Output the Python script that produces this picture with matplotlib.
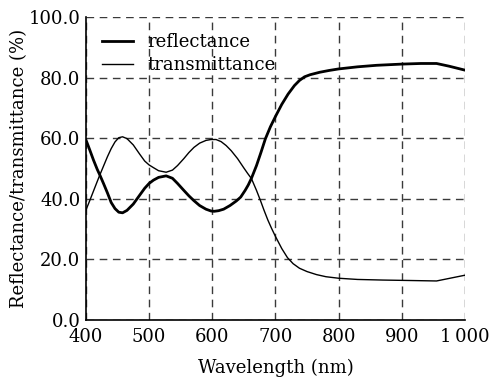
import matplotlib
matplotlib.use('Agg')
import matplotlib.pyplot as plt
import numpy as np

# data
wl_r = [400, 406, 412, 418, 422, 428, 434, 440, 446, 452, 458, 465, 475, 485, 493,
        500, 507, 515, 527, 537, 545, 555, 563, 571, 580, 590, 598, 603, 610, 618,
        628, 638, 645, 652, 657, 662, 670, 677, 684, 692, 700, 710, 720, 730, 738,
        746, 755, 770, 785, 800, 830, 860, 900, 930, 955, 975, 1000]
refl = [59.5, 56.2, 52.8, 49.7, 47.9, 45.0, 42.0, 38.8, 36.8, 35.6, 35.4, 36.2, 38.3, 41.2, 43.5,
        45.1, 46.2, 47.1, 47.6, 46.8, 45.1, 42.8, 41.0, 39.4, 37.8, 36.6, 36.0, 35.9, 36.1, 36.6,
        37.8, 39.3, 40.6, 42.8, 44.6, 46.8, 51.0, 55.3, 59.8, 63.8, 67.2, 71.2, 74.6, 77.4, 79.1,
        80.3, 81.0, 81.8, 82.4, 82.9, 83.6, 84.1, 84.5, 84.7, 84.7, 83.8, 82.5]

wl_t = [400, 406, 412, 418, 422, 428, 434, 440, 446, 452, 458, 465, 475, 485, 493,
        500, 507, 515, 527, 537, 545, 555, 563, 571, 580, 590, 598, 606, 614, 622,
        630, 640, 650, 656, 662, 670, 676, 682, 688, 694, 700, 710, 719, 728, 738,
        750, 765, 780, 800, 830, 870, 900, 955, 1000]
trans = [36.3, 39.4, 42.6, 45.8, 47.9, 50.9, 53.9, 56.6, 58.8, 60.2, 60.5, 59.9, 57.8, 54.8, 52.5,
         51.2, 50.3, 49.3, 48.8, 49.5, 51.0, 53.3, 55.3, 57.0, 58.4, 59.3, 59.6, 59.6, 58.9, 57.6,
         55.9, 53.3, 50.2, 48.4, 46.7, 42.8, 39.6, 36.2, 33.0, 30.2, 27.6, 23.6, 20.6, 18.6, 17.1,
         16.0, 15.0, 14.3, 13.8, 13.4, 13.2, 13.1, 12.9, 14.8]

xticks = [400, 500, 600, 700, 800, 900, 1000]
xlabels = ['400', '500', '600', '700', '800', '900', '1\u2009000']
yticks = [0, 20, 40, 60, 80, 100]

plt.rcParams['font.family'] = ['DejaVu Serif']
plt.rcParams['font.size'] = 13

fig = plt.figure(figsize=(4.91, 3.81), dpi=100)
ax = fig.add_axes([0.175, 0.160, 0.772, 0.795])

ax.plot(wl_r, refl, color='black', lw=2.0, label='reflectance', solid_joinstyle='round')
ax.plot(wl_t, trans, color='black', lw=1.0, label='transmittance', solid_joinstyle='round')

ax.set_xlim(400, 1000)
ax.set_ylim(0, 100)
ax.set_xticks(xticks)
ax.set_xticklabels(xlabels)
ax.set_yticks(yticks)
ax.set_yticklabels(['%.1f' % v for v in yticks])
ax.tick_params(length=0)
ax.tick_params(axis='x', pad=6)
ax.tick_params(axis='y', pad=4)

ax.grid(True, ls=(0, (5.5, 4)), color='#3a3a3a', lw=1.0)
ax.spines['top'].set_visible(False)
ax.spines['right'].set_visible(False)
ax.spines['left'].set_linewidth(1.2)
ax.spines['bottom'].set_linewidth(1.2)

ax.set_xlabel('Wavelength (nm)', labelpad=9)
ax.set_ylabel('Reflectance/transmittance (%)', labelpad=0)

ax.legend(loc='upper left', frameon=False, handlelength=1.7, handletextpad=0.8,
          borderaxespad=0.5, labelspacing=0.25)

fig.savefig('out.png', dpi=100)
